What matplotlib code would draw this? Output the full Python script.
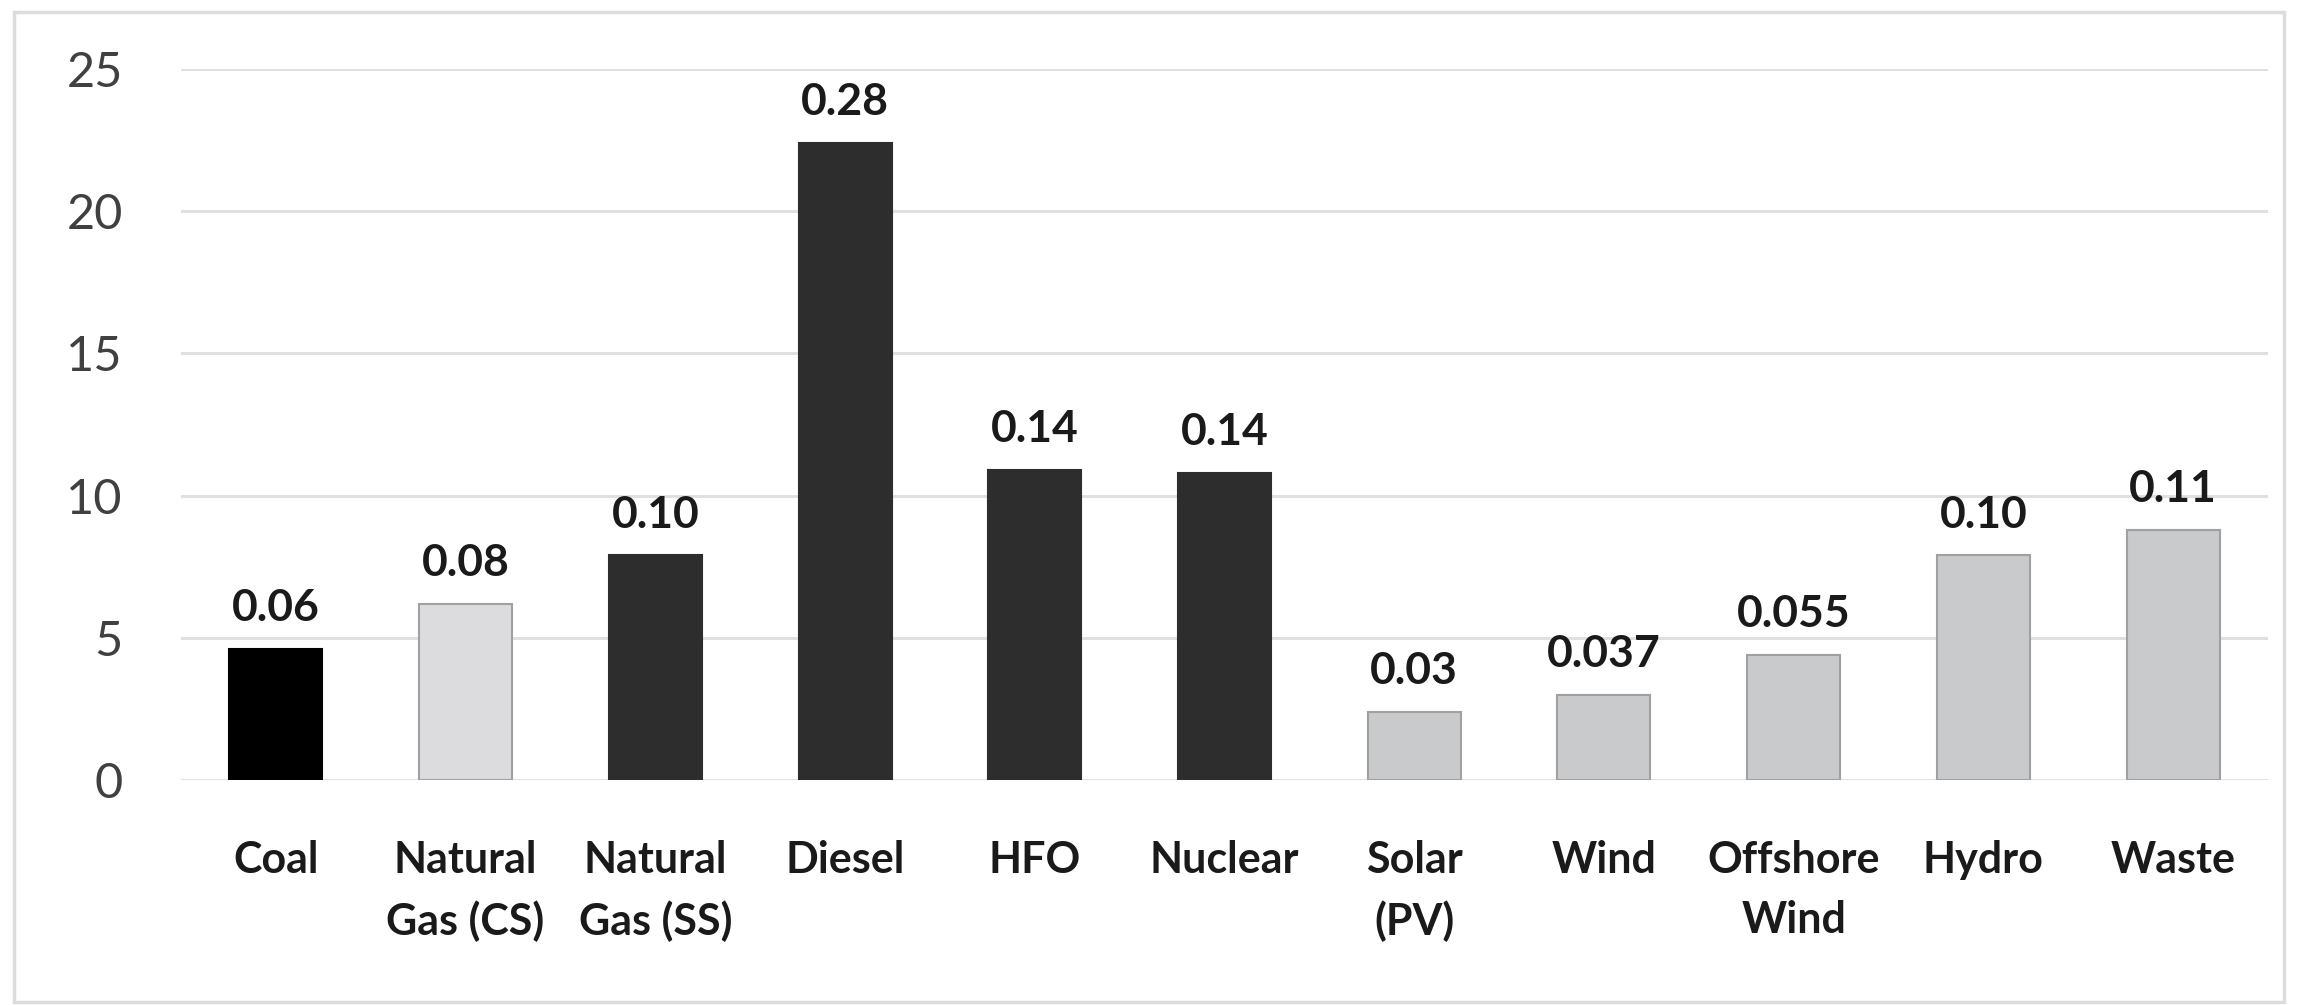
import matplotlib
matplotlib.use("Agg")
import matplotlib.pyplot as plt
from matplotlib.patches import Rectangle

categories = ["Coal", "Natural\nGas (CS)", "Natural\nGas (SS)", "Diesel", "HFO", "Nuclear",
              "Solar\n(PV)", "Wind", "Offshore\nWind", "Hydro", "Waste"]
values = [4.6, 6.2, 7.9, 22.4, 10.9, 10.8, 2.4, 3.0, 4.4, 7.9, 8.8]
value_labels = ["0.06", "0.08", "0.10", "0.28", "0.14", "0.14", "0.03", "0.037", "0.055", "0.10", "0.11"]
colors = ["#000000", "#dcdcde", "#2d2d2d", "#2d2d2d", "#2d2d2d", "#2d2d2d",
          "#c9cacc", "#c9cacc", "#c9cacc", "#c9cacc", "#c9cacc"]
edges = ["#000000", "#a0a0a0", "#2d2d2d", "#2d2d2d", "#2d2d2d", "#2d2d2d",
         "#a0a0a0", "#a0a0a0", "#a0a0a0", "#a0a0a0", "#a0a0a0"]
yticks = [0, 5, 10, 15, 20, 25]

plt.rcParams['font.family'] = ['Lato', 'DejaVu Sans']

fig = plt.figure(figsize=(23.03, 10.05), dpi=100)
fig.patch.set_facecolor("white")
ax = fig.add_axes([0.0786, 0.2239, 0.9062, 0.7074])

x = list(range(len(categories)))
bars = ax.bar(x, values, width=0.49, color=colors, edgecolor=edges, linewidth=1.5, zorder=3)

for xi, v, lab in zip(x, values, value_labels):
    ax.annotate(lab, (xi, v), xytext=(0, 20), textcoords="offset points",
                ha="center", va="baseline", fontsize=32, fontweight="bold", color="#1a1a1a")

ax.set_xlim(-0.5, len(categories) - 0.5)
ax.set_ylim(0, 25)
ax.set_yticks(yticks)
ax.set_yticklabels([str(t) for t in yticks], fontsize=35, color="#404040")
ax.set_xticks(x)
ax.set_xticklabels(categories, fontsize=31, fontweight="bold", color="#1a1a1a", linespacing=1.6)
ax.tick_params(axis="y", length=0, pad=42)
ax.tick_params(axis="x", length=0, pad=43)
ax.yaxis.grid(True, color="#e0e0e0", linewidth=2.2, zorder=0)
ax.set_axisbelow(True)
for s in ax.spines.values():
    s.set_visible(False)

fig.patches.append(Rectangle((14 / 2303, 3 / 1005), 2270 / 2303, 990 / 1005,
                             transform=fig.transFigure, fill=False,
                             edgecolor="#dcdcdc", linewidth=2.5))

fig.savefig("out.png", dpi=100)
